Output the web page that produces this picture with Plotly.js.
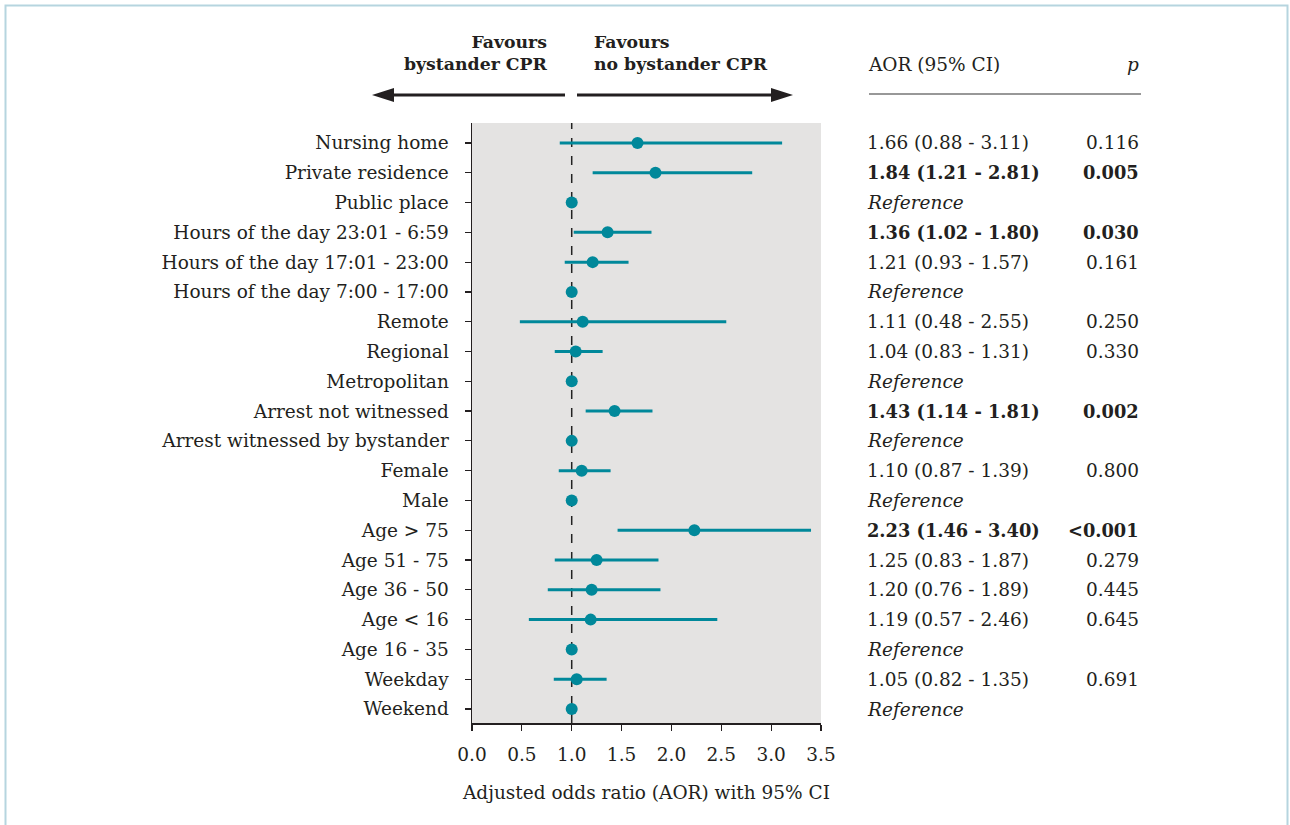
<!DOCTYPE html>
<html>
<head>
<meta charset="utf-8">
<script src="https://cdn.plot.ly/plotly-3.0.1.min.js"></script>
<style>html,body{margin:0;padding:0;background:#fff;}#chart{width:1290px;height:825px;}</style>
</head>
<body>
<div id="chart"></div>
<script>
// ---- data (top to bottom) ----
const categories = [
  "Nursing home", "Private residence", "Public place",
  "Hours of the day 23:01 - 6:59", "Hours of the day 17:01 - 23:00", "Hours of the day 7:00 - 17:00",
  "Remote", "Regional", "Metropolitan",
  "Arrest not witnessed", "Arrest witnessed by bystander",
  "Female", "Male",
  "Age &gt; 75", "Age 51 - 75", "Age 36 - 50", "Age &lt; 16", "Age 16 - 35",
  "Weekday", "Weekend"
];
const aor   = [1.66, 1.84, 1.00, 1.36, 1.21, 1.00, 1.11, 1.04, 1.00, 1.43, 1.00, 1.10, 1.00, 2.23, 1.25, 1.20, 1.19, 1.00, 1.05, 1.00];
const ciLow = [0.88, 1.21, null, 1.02, 0.93, null, 0.48, 0.83, null, 1.14, null, 0.87, null, 1.46, 0.83, 0.76, 0.57, null, 0.82, null];
const ciHigh= [3.11, 2.81, null, 1.80, 1.57, null, 2.55, 1.31, null, 1.81, null, 1.39, null, 3.40, 1.87, 1.89, 2.46, null, 1.35, null];
const pText = ["0.116", "0.005", "", "0.030", "0.161", "", "0.250", "0.330", "", "0.002", "", "0.800", "", "&lt;0.001", "0.279", "0.445", "0.645", "", "0.691", ""];
const significant = [false, true, false, true, false, false, false, false, false, true, false, false, false, true, false, false, false, false, false, false];
const xTicks = [0, 0.5, 1, 1.5, 2, 2.5, 3, 3.5];

// ---- styling ----
const W = 1290, H = 825;
const FONT = "DejaVu Serif";
const FS = 18.5;
const FSB = 17.8;
const TXT = "#231f20";
const TEAL = "#00889a";
const px = v => v / W;
const py = v => 1 - v / H;

const plus = aor.map((a, i) => ciHigh[i] == null ? 0 : +(ciHigh[i] - a).toFixed(2));
const minus = aor.map((a, i) => ciLow[i] == null ? 0 : +(a - ciLow[i]).toFixed(2));

const trace = {
  type: "scatter", mode: "markers",
  x: aor, y: categories,
  marker: {color: TEAL, size: 12},
  error_x: {type: "data", symmetric: false, array: plus, arrayminus: minus,
            color: TEAL, thickness: 3, width: 0},
  hoverinfo: "skip", showlegend: false
};

const annotations = [];
const fmt = v => v.toFixed(2);
categories.forEach((c, i) => {
  let t;
  if (ciLow[i] == null) t = "<i>Reference</i>";
  else {
    t = fmt(aor[i]) + " (" + fmt(ciLow[i]) + " - " + fmt(ciHigh[i]) + ")";
    if (significant[i]) t = "<b>" + t + "</b>";
  }
  const size = significant[i] ? FSB : FS;
  annotations.push({xref: "paper", yref: "y", x: px(865), y: c, text: t, showarrow: false,
    xanchor: "left", yanchor: "middle", font: {family: FONT, size: size, color: TXT}});
  if (pText[i]) {
    annotations.push({xref: "paper", yref: "y", x: px(1141), y: c,
      text: significant[i] ? "<b>" + pText[i] + "</b>" : pText[i], showarrow: false,
      xanchor: "right", yanchor: "middle", font: {family: FONT, size: size, color: TXT}});
  }
});
// headers
annotations.push({xref: "paper", yref: "paper", x: px(866), y: py(65), text: "AOR (95% CI)",
  showarrow: false, xanchor: "left", yanchor: "middle", font: {family: FONT, size: FS, color: TXT}});
annotations.push({xref: "paper", yref: "paper", x: px(1141), y: py(65), text: "<i>p</i>",
  showarrow: false, xanchor: "right", yanchor: "middle", font: {family: FONT, size: FS, color: TXT}});
annotations.push({xref: "paper", yref: "paper", x: px(550), y: py(53), text: "<b>Favours</b><br><b>bystander CPR</b>",
  showarrow: false, xanchor: "right", yanchor: "middle", align: "right", font: {family: FONT, size: 17.3, color: TXT}});
annotations.push({xref: "paper", yref: "paper", x: px(592), y: py(53), text: "<b>Favours</b><br><b>no bystander CPR</b>",
  showarrow: false, xanchor: "left", yanchor: "middle", align: "left", font: {family: FONT, size: 17.3, color: TXT}});

const AY = 95;
const shapes = [
  // outer frame
  {type: "rect", xref: "paper", yref: "paper", x0: px(5.5), x1: px(1287.5), y0: -0.2, y1: py(5.5),
   line: {color: "#b6d5df", width: 2}, layer: "below"},
  // reference line at 1
  {type: "line", xref: "x", yref: "paper", x0: 1, x1: 1, y0: py(723), y1: py(123),
   line: {color: "#222", width: 1.5, dash: "dash"}, layer: "below"},
  // header rule
  {type: "line", xref: "paper", yref: "paper", x0: px(869), x1: px(1141), y0: py(94), y1: py(94),
   line: {color: "#333", width: 1.2}},
  // arrows
  {type: "line", xref: "paper", yref: "paper", x0: px(565), x1: px(390), y0: py(AY), y1: py(AY),
   line: {color: "#231f20", width: 3}},
  {type: "path", xref: "paper", yref: "paper",
   path: `M${px(372)},${py(AY)} L${px(394)},${py(AY - 7)} L${px(394)},${py(AY + 7)} Z`,
   fillcolor: "#231f20", line: {width: 0}},
  {type: "line", xref: "paper", yref: "paper", x0: px(577), x1: px(775), y0: py(AY), y1: py(AY),
   line: {color: "#231f20", width: 3}},
  {type: "path", xref: "paper", yref: "paper",
   path: `M${px(793)},${py(AY)} L${px(771)},${py(AY - 7)} L${px(771)},${py(AY + 7)} Z`,
   fillcolor: "#231f20", line: {width: 0}}
];

const layout = {
  width: W, height: H,
  margin: {l: 0, r: 0, t: 0, b: 0},
  paper_bgcolor: "#ffffff",
  plot_bgcolor: "#e4e3e2",
  font: {family: FONT, size: FS, color: TXT},
  xaxis: {
    domain: [px(472), px(821)], range: [0, 3.5],
    tickvals: xTicks, ticktext: xTicks.map(v => v.toFixed(1)),
    showgrid: false, zeroline: false,
    showline: true, linecolor: "#231f20", linewidth: 1.5,
    ticks: "outside", ticklen: 6, tickwidth: 1.2, tickcolor: "#231f20",
    ticklabelstandoff: 8,
    tickfont: {family: FONT, size: FS, color: TXT},
    title: {text: "Adjusted odds ratio (AOR) with 95% CI", font: {family: FONT, size: FS, color: TXT}, standoff: 22}
  },
  yaxis: {
    domain: [1 - 723 / H, 1 - 123 / H],
    type: "category", categoryorder: "array", categoryarray: categories,
    range: [19.47, -0.67],
    showgrid: false, zeroline: false,
    showline: true, linecolor: "#231f20", linewidth: 1.5,
    ticks: "outside", ticklen: 6, tickwidth: 1.2, tickcolor: "#231f20",
    ticklabelstandoff: 12,
    tickfont: {family: FONT, size: FS, color: TXT}
  },
  annotations: annotations,
  shapes: shapes
};

Plotly.newPlot("chart", [trace], layout, {displayModeBar: false, staticPlot: true});
</script>
</body>
</html>
